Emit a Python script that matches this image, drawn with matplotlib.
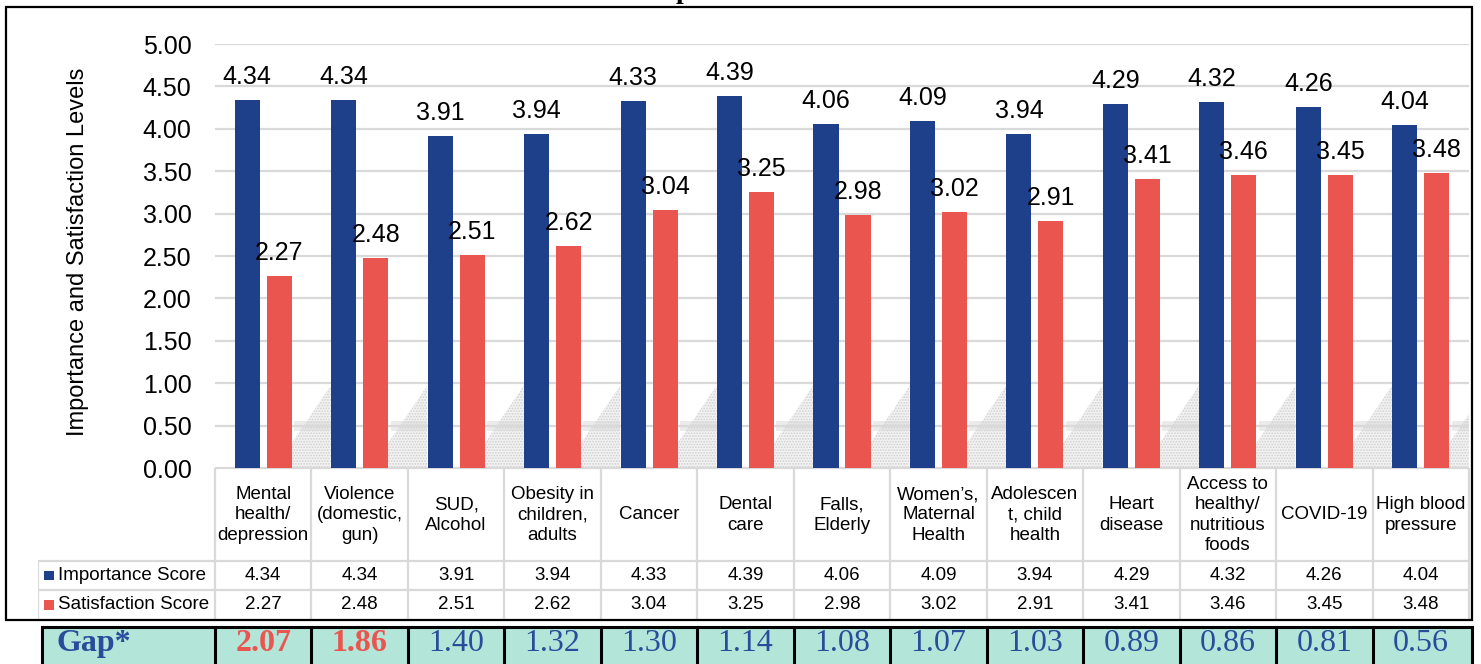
import matplotlib
matplotlib.use("Agg")
import matplotlib.pyplot as plt
from matplotlib.patches import Rectangle, Polygon
import numpy as np

# ---------------- data ----------------
categories = ["Mental\nhealth/\ndepression", "Violence\n(domestic,\ngun)", "SUD,\nAlcohol",
              "Obesity in\nchildren,\nadults", "Cancer", "Dental\ncare", "Falls,\nElderly",
              "Women\u2019s,\nMaternal\nHealth", "Adolescen\nt, child\nhealth", "Heart\ndisease",
              "Access to\nhealthy/\nnutritious\nfoods", "COVID-19", "High blood\npressure"]
importance = [4.34, 4.34, 3.91, 3.94, 4.33, 4.39, 4.06, 4.09, 3.94, 4.29, 4.32, 4.26, 4.04]
satisfaction = [2.27, 2.48, 2.51, 2.62, 3.04, 3.25, 2.98, 3.02, 2.91, 3.41, 3.46, 3.45, 3.48]
gap = [2.07, 1.86, 1.40, 1.32, 1.30, 1.14, 1.08, 1.07, 1.03, 0.89, 0.86, 0.81, 0.56]
series_names = ["Importance Score", "Satisfaction Score"]
gap_label = "Gap*"
y_label = "Importance and Satisfaction Levels"
y_ticks = [0.0, 0.5, 1.0, 1.5, 2.0, 2.5, 3.0, 3.5, 4.0, 4.5, 5.0]
title_fragment = "p"

# ---------------- style ----------------
BLUE = "#1E3F8A"
RED = "#EA5550"
GRID = "#D9D9D9"
TEAL = "#B3E6D9"
GAP_BLUE = "#2A4C9B"
SANS = ["Liberation Sans", "DejaVu Sans"]
SERIF = ["Liberation Serif", "DejaVu Serif"]
plt.rcParams["font.family"] = SANS
plt.rcParams["hatch.linewidth"] = 0.8

W, H = 1481, 664
fig = plt.figure(figsize=(W / 100, H / 100), dpi=100)


def px_axes(l, t, r, b):
    return fig.add_axes([l / W, 1 - b / H, (r - l) / W, (b - t) / H])


n = len(categories)
x = np.arange(n)
off, bw = 0.166, 0.26

# ---------------- chart ----------------
ax = px_axes(215, 44, 1469, 468)
ax.set_xlim(-0.5, n - 0.5)
ax.set_ylim(0, 5)

# faint stippled "shadow" decoration
for i in range(n):
    xa, xb = i + 0.12, i + 0.70
    ax.add_patch(Polygon([(xa, 0), (xb, 0.97), (xb, 0)], closed=True,
                         facecolor="#f2f2f2", edgecolor="#cfcfcf", hatch="......",
                         linewidth=0, zorder=0.3))
    ax.add_patch(Rectangle((i + 0.32, 0.44), 0.38, 0.12, facecolor="#d8d8d8",
                           edgecolor="none", alpha=0.5, zorder=0.35))

ax.bar(x - off, importance, bw, color=BLUE, zorder=3)
ax.bar(x + off, satisfaction, bw, color=RED, zorder=3)
for i in range(n):
    ax.annotate(f"{importance[i]:.2f}", (x[i] - off, importance[i]), xytext=(0, 11.5),
                textcoords="offset points", ha="center", va="baseline", fontsize=18, zorder=5)
    ax.annotate(f"{satisfaction[i]:.2f}", (x[i] + off, satisfaction[i]), xytext=(0, 11.5),
                textcoords="offset points", ha="center", va="baseline", fontsize=18, zorder=5)

ax.set_yticks(y_ticks)
ax.set_yticklabels([f"{t:.2f}" for t in y_ticks], fontsize=18)
ax.set_xticks([])
ax.tick_params(axis="y", length=0, pad=17)
ax.yaxis.grid(True, color=GRID, linewidth=1.6)
ax.set_axisbelow(True)
for s in ax.spines.values():
    s.set_visible(False)
ax.patch.set_alpha(0)

fig.text(78 / W, 1 - 252 / H, y_label, rotation=90, ha="center", va="center", fontsize=17)

# ---------------- data table ----------------
PX = (1469 - 215) / n          # pixels per column
tl = 37.7
x0 = -0.5 - (215 - tl) / PX
x1 = n - 0.5 + (1473 - 1469) / PX
tax = px_axes(tl, 468, 1473, 664)
tax.set_xlim(x0, x1)
tax.set_ylim(664, 468)
tax.axis("off")

lkw = dict(color=GRID, linewidth=1.6, solid_capstyle="butt", zorder=1)
tax.plot([-0.5, n - 0.5], [468.5, 468.5], **lkw)
tax.plot([x0, n - 0.5], [560.7, 560.7], **lkw)
tax.plot([x0, n - 0.5], [590, 590], **lkw)
for k in range(n + 1):
    tax.plot([k - 0.5, k - 0.5], [468.5, 620], **lkw)
tax.plot([x0 + 0.005, x0 + 0.005], [560.7, 620], **lkw)

for i in range(n):
    tax.text(x[i], 515, categories[i], ha="center", va="center", fontsize=13.5,
             linespacing=1.25)
    tax.text(x[i], 575.5, f"{importance[i]:.2f}", ha="center", va="center", fontsize=13.5)
    tax.text(x[i], 605, f"{satisfaction[i]:.2f}", ha="center", va="center", fontsize=13.5)

for row_y, name, col in [(575.5, series_names[0], BLUE), (605, series_names[1], RED)]:
    tax.add_patch(Rectangle((x0 + 6.3 / PX, row_y - 4.5), 9.5 / PX, 9.5,
                            facecolor=col, edgecolor="none"))
    tax.text(x0 + 20.5 / PX, row_y, name, ha="left", va="center", fontsize=13.5)

# ---------------- gap row ----------------
g0 = -0.5 - (215 - 42.3) / PX
tax.add_patch(Rectangle((g0, 627.5), x1 - g0 - 0.01, 50, facecolor=TEAL,
                        edgecolor="black", linewidth=2.2, clip_on=False, zorder=2))
for k in range(n):
    tax.plot([k - 0.5, k - 0.5], [627.5, 670], color="black", linewidth=2.2, zorder=3,
             clip_on=False)
tax.text(g0 + 14.5 / PX, 644, gap_label, ha="left", va="center", fontsize=23,
         fontweight="bold", color=GAP_BLUE, family=SERIF, zorder=4)
for i in range(n):
    hi = gap[i] > 1.5
    tax.text(x[i], 644, f"{gap[i]:.2f}", ha="center", va="center", fontsize=23,
             fontweight="bold" if hi else "normal", color=RED if hi else GAP_BLUE,
             family=SERIF, zorder=4)

# ---------------- frame & title fragment ----------------
oax = fig.add_axes([0, 0, 1, 1])
oax.set_xlim(0, W)
oax.set_ylim(H, 0)
oax.axis("off")
oax.add_patch(Rectangle((6, 6.5), 1466, 613.5, fill=False, edgecolor="black",
                        linewidth=1.6))
fig.text(683 / W, 1 + 2.5 / H, title_fragment, ha="center", va="baseline", fontsize=20,
         fontweight="bold", family=SERIF)

fig.savefig("out.png", dpi=100)
